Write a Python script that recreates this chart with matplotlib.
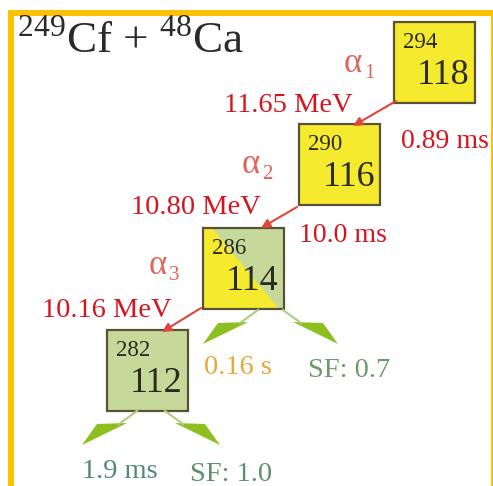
import matplotlib
matplotlib.use('Agg')
import matplotlib.pyplot as plt
from matplotlib.patches import Rectangle, Polygon

plt.rcParams['font.family'] = ['Liberation Serif', 'DejaVu Serif']
plt.rcParams['mathtext.fontset'] = 'custom'
plt.rcParams['mathtext.rm'] = 'Liberation Serif'

# decay chain data
mass = [294, 290, 286, 282]
charge = [118, 116, 114, 112]
alpha_energy = ['11.65 MeV', '10.80 MeV', '10.16 MeV']
half_life = ['0.89 ms', '10.0 ms', '0.16 s', '1.9 ms']
sf_branch = ['SF: 0.7', 'SF: 1.0']

# layout (pixel coords, y down)
box_xy = [(394, 22), (299, 124), (203, 228), (107, 330)]
box_size = 81
yellow = '#f6ea2e'
green = '#c6d99b'
edge = '#5a5236'
red = '#d6141f'
salmon = '#e0645a'
garrow = '#8cbf1f'

fig = plt.figure(figsize=(4.93, 4.86), dpi=100)
ax = fig.add_axes([0, 0, 1, 1])
ax.set_xlim(0, 493)
ax.set_ylim(486, 0)
ax.axis('off')

# frame
ax.add_patch(Rectangle((8, 10), 485, 6, color='#ffc000', lw=0))
ax.add_patch(Rectangle((8, 10), 6, 476, color='#ffc000', lw=0))
ax.add_patch(Rectangle((490.5, 10), 2, 476, color='#ffc000', lw=0))

ax.text(17, 53, r'$^{249}$Cf + $^{48}$Ca', fontsize=32.5, color='#2a2a2a', va='baseline')

# boxes
for i, (x, y) in enumerate(box_xy):
    s = box_size
    if i < 2:
        ax.add_patch(Rectangle((x, y), s, s, facecolor=yellow, edgecolor='none'))
    elif i == 2:
        ax.add_patch(Rectangle((x, y), s, s, facecolor=green, edgecolor='none'))
        ax.add_patch(Polygon([(x, y), (x + 9, y), (x + 76, y + s), (x, y + s)],
                             closed=True, facecolor=yellow, edgecolor='none'))
    else:
        ax.add_patch(Rectangle((x, y), s, s, facecolor=green, edgecolor='none'))
    ax.add_patch(Rectangle((x, y), s, s, facecolor='none', edgecolor=edge, lw=1.6))
    ax.text(x + 9, y + 26, str(mass[i]), fontsize=16.5, color='#2b2b1f', va='baseline')
    ax.text(x + s - 5, y + 62, str(charge[i]), fontsize=26, color='#2b2b1f',
            va='baseline', ha='right')

# alpha decay arrows
alpha_arrows = [((396, 101), (353, 126)), ((297, 207), (261, 228)), ((201, 308), (162, 332))]
for (p0, p1) in alpha_arrows:
    ax.annotate('', xy=p1, xytext=p0,
                arrowprops=dict(arrowstyle='-|>', color='#e0473a', lw=1.5,
                                mutation_scale=13, shrinkA=0, shrinkB=0))

# alpha labels
alpha_pos = [(344, 72), (242, 173), (149, 274)]
for i, (x, y) in enumerate(alpha_pos):
    ax.text(x, y, 'α', fontsize=25, color=salmon, va='baseline')
    ax.text(x + 20, y + 6, str(i + 1), fontsize=15, color=salmon, va='baseline')

energy_pos = [(224, 112), (131, 214), (42, 317)]
for (x, y), t in zip(energy_pos, alpha_energy):
    ax.text(x, y, t, fontsize=20.5, color=red, va='baseline')

life_pos = [(401, 148), (299, 242)]
for (x, y), t in zip(life_pos, half_life[:2]):
    ax.text(x, y, t, fontsize=20, color=red, va='baseline')

ax.text(204, 374, half_life[2], fontsize=20.5, color='#eba63a', va='baseline')
ax.text(308, 377, sf_branch[0], fontsize=20.5, color='#6b9a6a', va='baseline')
ax.text(82, 478, half_life[3], fontsize=20.5, color='#4e8a72', va='baseline')
ax.text(190, 481, sf_branch[1], fontsize=20.5, color='#5e9070', va='baseline')


def green_arrow(x0, y0, d):
    ax.plot([x0, x0 + d * 18], [y0, y0 + 13], color='#b2cf80', lw=1.6)
    head = [(x0 + d * 40, y0 + 13), (x0 + d * 10, y0 + 12), (x0 + d * 55, y0 + 34)]
    ax.add_patch(Polygon(head, closed=True, facecolor=garrow, edgecolor='none'))


green_arrow(258, 310, -1)
green_arrow(283, 310, 1)
green_arrow(137, 411, -1)
green_arrow(165, 411, 1)

fig.savefig('out.png', dpi=100)
